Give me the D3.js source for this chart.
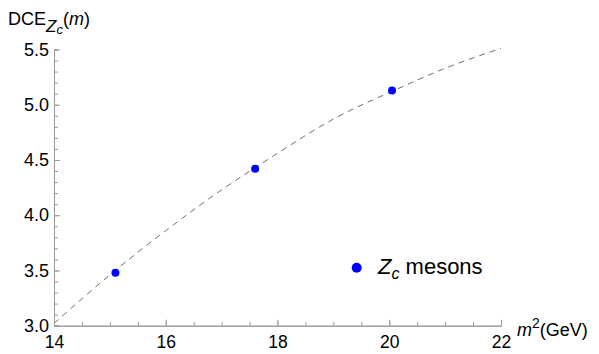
<!DOCTYPE html>
<html><head><meta charset="utf-8">
<script src="https://cdn.jsdelivr.net/npm/d3@7"></script>
<style>body{margin:0;background:#fff}svg{display:block}text{font-family:"Liberation Sans",Arial,sans-serif}</style>
</head><body><svg id="c" width="599" height="354"></svg>
<script>
const pointMass2 = [15.1, 17.6, 20.05];
const pointDCE = [3.48, 4.42, 5.13];
const curveMass2 = [14, 15, 16, 17, 18, 19, 20, 21, 22];
const curveDCE = [3.02, 3.46, 3.86, 4.23, 4.56, 4.87, 5.11, 5.33, 5.51];
const xMajor = [14, 16, 18, 20, 22];
const yMajor = [3.0, 3.5, 4.0, 4.5, 5.0, 5.5];
const legendLabel = "mesons";

const svg = d3.select("#c");
const x = d3.scaleLinear().domain([14, 22]).range([54, 501]);
const y = d3.scaleLinear().domain([3, 5.5]).range([325.7, 49.5]);
const axisColor = "#999";

// curve
const line = d3.line().x((d, i) => x(curveMass2[i])).y((d, i) => y(curveDCE[i])).curve(d3.curveNatural);
svg.append("path").attr("d", line(curveMass2)).attr("fill", "none")
  .attr("stroke", "#6e6e6e").attr("stroke-width", 1).attr("stroke-dasharray", "6,5");

// axes
const xMinor = d3.range(14, 22.01, 0.5);
const yMinor = d3.range(3, 5.501, 0.1);
function styleAxis(g) {
  g.select(".domain").attr("stroke", axisColor);
  g.selectAll(".tick line").attr("stroke", axisColor);
}
const gxMin = svg.append("g").attr("transform", `translate(0,${y(3)})`)
  .call(d3.axisBottom(x).tickValues(xMinor).tickSize(-4).tickFormat(""));
styleAxis(gxMin);
const gx = svg.append("g").attr("transform", `translate(0,${y(3)})`)
  .call(d3.axisBottom(x).tickValues(xMajor).tickSize(-6).tickSizeOuter(0).tickPadding(10).tickFormat(d3.format("d")));
styleAxis(gx);
gx.selectAll(".tick text").attr("font-size", 17.5).attr("fill", "#000").attr("font-family", "Liberation Sans, Arial, sans-serif");

const gyMin = svg.append("g").attr("transform", `translate(${x(14)},0)`)
  .call(d3.axisLeft(y).tickValues(yMinor).tickSize(-4).tickFormat(""));
styleAxis(gyMin);
const gy = svg.append("g").attr("transform", `translate(${x(14)},0)`)
  .call(d3.axisLeft(y).tickValues(yMajor).tickSize(-6).tickSizeOuter(0).tickPadding(5).tickFormat(d3.format(".1f")));
styleAxis(gy);
gy.selectAll(".tick text").attr("font-size", 18).attr("fill", "#000").attr("font-family", "Liberation Sans, Arial, sans-serif");

// points
svg.selectAll("circle.pt").data(pointMass2).enter().append("circle").attr("class", "pt")
  .attr("cx", (d) => x(d)).attr("cy", (d, i) => y(pointDCE[i])).attr("r", 4).attr("fill", "#0000ff");

// y label
const yl = svg.append("text").attr("x", 8).attr("y", 25).attr("font-size", 18).attr("fill", "#000");
yl.append("tspan").text("DCE");
yl.append("tspan").attr("font-style", "italic").attr("dy", 7).attr("font-size", 17).text("Z");
yl.append("tspan").attr("font-style", "italic").attr("dy", 2).attr("font-size", 13).text("c");
yl.append("tspan").attr("dy", -9).text("(");
yl.append("tspan").attr("font-style", "italic").text("m");
yl.append("tspan").text(")");

// x label
const xl = svg.append("text").attr("x", 517).attr("y", 336).attr("font-size", 18).attr("fill", "#000");
xl.append("tspan").attr("font-style", "italic").text("m");
xl.append("tspan").attr("dy", -8).attr("font-size", 14).text("2");
xl.append("tspan").attr("dy", 8).text("(GeV)");

// legend
svg.append("circle").attr("cx", 356.7).attr("cy", 267.7).attr("r", 5).attr("fill", "#0000ff");
const lg = svg.append("text").attr("x", 378).attr("y", 274).attr("font-size", 22).attr("fill", "#000");
lg.append("tspan").attr("font-style", "italic").text("Z");
lg.append("tspan").attr("font-style", "italic").attr("dy", 5).attr("font-size", 16).text("c");
lg.append("tspan").attr("dy", -5).text(" " + legendLabel);
</script></body></html>
